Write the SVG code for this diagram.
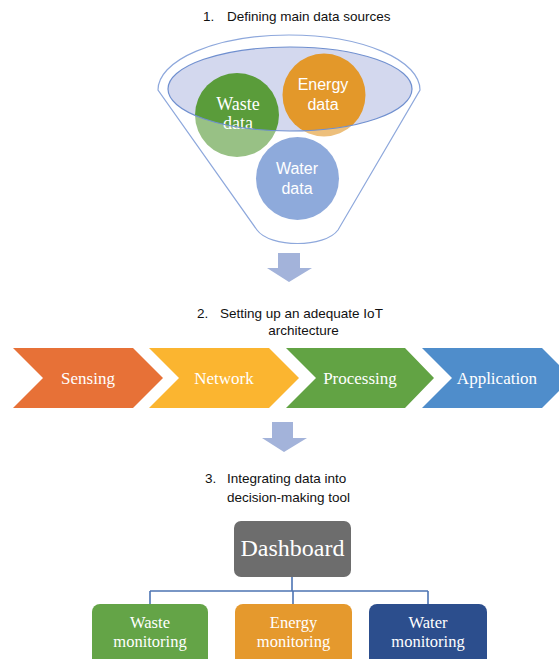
<svg xmlns="http://www.w3.org/2000/svg" width="559" height="659" viewBox="0 0 559 659">
  <style>
    .title { font-family: "Liberation Sans", Arial, sans-serif; font-size: 13.5px; fill: #111; }
    .serif { font-family: "Liberation Serif", "Times New Roman", serif; fill: #fff; }
    .sans { font-family: "Liberation Sans", Arial, sans-serif; fill: #fff; }
    .step { font-size: 17px; }
    .mon { font-size: 16.5px; }
    .arrow { fill: #a3b3da; }
    .link { fill: none; stroke: #4d74b3; stroke-width: 1.6; }
  </style>

  <rect width="559" height="659" fill="#fff"/>

  <!-- Section 1: funnel of data sources -->
  <text class="title" x="203" y="21">1.</text>
  <text class="title" x="227" y="21">Defining main data sources</text>

  <g id="funnel">
    <!-- opening of the funnel -->
    <ellipse cx="290" cy="89" rx="122" ry="42" fill="#d3d8ee"/>
  </g>

  <g id="waste-data">
    <circle cx="237" cy="115" r="42" fill="#5a9c3a"/>
    <text class="serif" x="238" y="110" font-size="18" text-anchor="middle">Waste</text>
    <text class="serif" x="238" y="129" font-size="18" text-anchor="middle">data</text>
  </g>
  <g id="energy-data">
    <circle cx="324" cy="95" r="41.5" fill="#e3982a"/>
    <text class="sans" x="323" y="90" font-size="16" text-anchor="middle">Energy</text>
    <text class="sans" x="323" y="110" font-size="16" text-anchor="middle">data</text>
  </g>
  <g id="water-data">
    <circle cx="297.5" cy="178.5" r="41.5" fill="#4a76c6"/>
    <text class="sans" x="297" y="174" font-size="16" text-anchor="middle">Water</text>
    <text class="sans" x="297" y="194" font-size="16" text-anchor="middle">data</text>
  </g>

  <g id="funnel-body">
    <!-- translucent body with the opening cut out -->
    <path fill="#fff" fill-opacity="0.38" fill-rule="evenodd"
          d="M158,90 A131,55 0 0 1 420,90 L338,230 C325,248 270,248 257,230 Z
             M168,89 A122,42 0 1 0 412,89 A122,42 0 1 0 168,89 Z"/>
    <path fill="none" stroke="#8ea8dc" stroke-width="1.2"
          d="M158,90 A131,55 0 0 1 420,90 L338,230 C325,248 270,248 257,230 Z"/>
    <ellipse cx="290" cy="89" rx="122" ry="42" fill="none" stroke="#6f8fcf" stroke-width="1.2"/>
  </g>

  <polygon class="arrow" points="278,253 300,253 300,268 312,268 289,282 267,268 278,268"/>

  <!-- Section 2: IoT architecture -->
  <text class="title" x="197" y="318">2.</text>
  <text class="title" x="220" y="318">Setting up an adequate IoT</text>
  <text class="title" x="303.5" y="335" text-anchor="middle">architecture</text>

  <g id="sensing">
    <polygon points="13,348 133,348 163,378 133,408 13,408 43,378" fill="#e77137"/>
    <text class="serif step" x="88" y="384" text-anchor="middle">Sensing</text>
  </g>
  <g id="network">
    <polygon points="149,348 269,348 299,378 269,408 149,408 179,378" fill="#fbb530"/>
    <text class="serif step" x="224" y="384" text-anchor="middle">Network</text>
  </g>
  <g id="processing">
    <polygon points="286,348 405,348 434,378 405,408 286,408 316,378" fill="#62a344"/>
    <text class="serif step" x="360" y="384" text-anchor="middle">Processing</text>
  </g>
  <g id="application">
    <polygon points="422,348 542,348 572,378 542,408 422,408 452,378" fill="#4f8dcb"/>
    <text class="serif step" x="497" y="384" text-anchor="middle">Application</text>
  </g>

  <polygon class="arrow" points="272,422 293,422 293,438 307,438 284,452 262,438 272,438"/>

  <!-- Section 3: decision-making tool -->
  <text class="title" x="205" y="483">3.</text>
  <text class="title" x="227" y="483">Integrating data into</text>
  <text class="title" x="227" y="502">decision-making tool</text>

  <g id="connectors">
    <path class="link" d="M292,577 V591 M150,591 H428 M150,591 V604 M293,591 V604 M428,591 V604"/>
  </g>

  <g id="dashboard">
    <rect x="234" y="521" width="117" height="56" rx="7" fill="#6d6d6d"/>
    <text class="serif" x="292.5" y="556" font-size="24" text-anchor="middle">Dashboard</text>
  </g>
  <g id="waste-monitoring">
    <rect x="92" y="604" width="116" height="62" rx="8" fill="#64a447"/>
    <text class="serif mon" x="150" y="627.5" text-anchor="middle">Waste</text>
    <text class="serif mon" x="150" y="646.5" text-anchor="middle">monitoring</text>
  </g>
  <g id="energy-monitoring">
    <rect x="235" y="604" width="117" height="62" rx="8" fill="#e5992d"/>
    <text class="serif mon" x="293.5" y="627.5" text-anchor="middle">Energy</text>
    <text class="serif mon" x="293.5" y="646.5" text-anchor="middle">monitoring</text>
  </g>
  <g id="water-monitoring">
    <rect x="369" y="604" width="118" height="62" rx="8" fill="#2c4e8d"/>
    <text class="serif mon" x="428" y="627.5" text-anchor="middle">Water</text>
    <text class="serif mon" x="428" y="646.5" text-anchor="middle">monitoring</text>
  </g>
</svg>
